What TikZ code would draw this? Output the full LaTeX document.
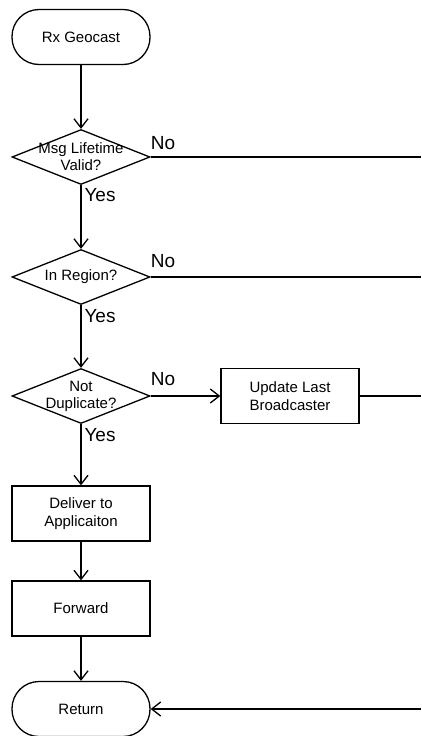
\documentclass[tikz,border=0pt]{standalone}
\usepackage{fontspec}
\setmainfont{Liberation Sans}
\usetikzlibrary{shapes.geometric,arrows.meta}
\begin{document}
\begin{tikzpicture}[x=1pt,y=-1pt,
  every path/.style={line width=1.3pt},
  term/.style={draw,rounded corners=27pt,minimum width=138pt,minimum height=55pt,inner sep=0pt,font=\fontsize{15}{18}\selectfont},
  procbox/.style={draw,minimum width=138pt,minimum height=55pt,inner sep=0pt,align=center,font=\fontsize{15}{18}\selectfont},
  dia/.style={draw,diamond,minimum width=138pt,minimum height=55pt,inner sep=0pt},
  diatxt/.style={align=center,inner sep=0pt,font=\fontsize{15}{17}\selectfont},
  lbl/.style={inner sep=0pt,font=\fontsize{19}{21}\selectfont},
  arr/.style={-{Straight Barb[length=9pt,width=14pt,line width=1.3pt]}}
]
\useasboundingbox (0,0) rectangle (421,736);
\node[term] (start) at (81,37) {Rx Geocast};
\node[dia] (d1) at (81,157) {};
\node[diatxt] at (d1) {Msg Lifetime\\Valid?};
\node[dia] (d2) at (81,277) {};
\node[diatxt] at (d2) {In Region?};
\node[dia] (d3) at (81,396) {};
\node[diatxt] at (d3) {Not\\Duplicate?};
\node[procbox] (upd) at (290,396) {Update Last\\Broadcaster};
\node[procbox] (deliv) at (81,513.5) {Deliver to\\Applicaiton};
\node[procbox] (fwd) at (81,608.5) {Forward};
\node[term] (ret) at (81,709) {Return};

\coordinate (e1) at (421,157);
\coordinate (e2) at (421,277);
\coordinate (e3) at (421,396);
\coordinate (e4) at (421,709);

\draw[arr] (start) -- (d1);
\draw[arr] (d1) -- (d2);
\draw[arr] (d2) -- (d3);
\draw[arr] (d3) -- (deliv);
\draw[arr] (deliv) -- (fwd);
\draw[arr] (fwd) -- (ret);
\draw[arr] (d3.east) -- (upd.west);
\draw (d1.east) -- (e1);
\draw (d2.east) -- (e2);
\draw (upd.east) -- (e3);
\draw[arr] (e4) -- (ret.east);

\node[lbl] at (163,143) {No};
\node[lbl] at (100,195) {Yes};
\node[lbl] at (163,261) {No};
\node[lbl] at (100,316) {Yes};
\node[lbl] at (163,379) {No};
\node[lbl] at (100,435) {Yes};
\end{tikzpicture}
\end{document}
